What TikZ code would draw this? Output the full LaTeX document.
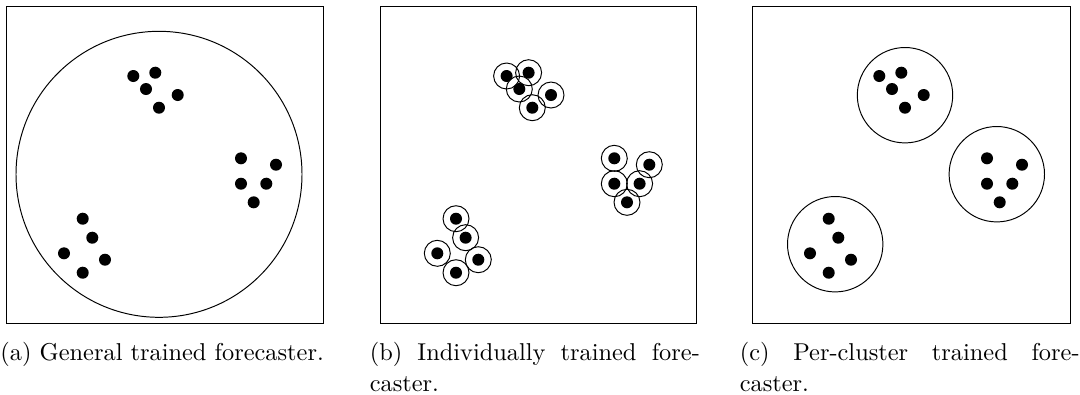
\documentclass[tikz,border=0pt]{standalone}
\begin{document}
\begin{tikzpicture}[x=0.4105pt, y=-0.4105pt,
  panel/.style={draw=black, line width=0.4pt},
  dot/.style={circle, fill=black, draw=none, inner sep=0pt, minimum size=4.93pt},
  ring/.style={circle, draw=black, line width=0.4pt, inner sep=0pt, minimum size=10.67pt},
  region/.style={draw=black, line width=0.4pt},
  captext/.style={inner sep=0pt, font=\fontsize{10}{12.73}\selectfont}]
\useasboundingbox (0,0) rectangle (1080,394);

% dot positions (x relative to panel left, y absolute)
\def\dots{126.6/76/1, 148.6/72.7/2, 139.3/89/3, 171/95/4, 152.3/107.7/5,
  234.3/158.3/6, 269.3/164.7/7, 234.3/183.7/8, 259.6/183.7/9, 247/202.3/10,
  76/218.7/11, 85.6/237.7/12, 57.3/253.3/13, 98.3/259.7/14, 76/272.7/15}

% ---------- panel (a)
\begin{scope}[shift={(6.7,0)}]
  \draw[panel] (0,6) rectangle (316.7,323.3);
  \draw[region] (152.3,174.3) circle[radius=143];
  \foreach \px/\py/\i in \dots {\node[dot] (a\i) at (\px,\py) {};}
\end{scope}

% ---------- panel (b)
\begin{scope}[shift={(380,0)}]
  \draw[panel] (0,6) rectangle (316.3,323.3);
  \foreach \px/\py/\i in \dots {
    \node[dot] (b\i) at (\px,\py) {};
    \node[ring] (br\i) at (\px,\py) {};
  }
\end{scope}

% ---------- panel (c)
\begin{scope}[shift={(752.7,0)}]
  \draw[panel] (0,6) rectangle (317.3,323.3);
  \draw[region] (152.3,95.2) circle[radius=47.7];
  \draw[region] (244.1,174.2) circle[radius=47.7];
  \draw[region] (82.5,244.2) circle[radius=47.7];
  \foreach \px/\py/\i in \dots {\node[dot] (c\i) at (\px,\py) {};}
\end{scope}

% ---------- captions
\node[captext, anchor=base west] (capa) at (0,360) {(a) General trained forecaster.};
\node[captext, anchor=base west, text width=135.5pt, align=justify] (capb) at (369.3,360)
  {(b) Individually trained fore-\linebreak caster.};
\node[captext, anchor=base west, text width=139.5pt, align=justify] (capc) at (739.3,360)
  {(c) Per-cluster trained fore-\linebreak caster.};
\end{tikzpicture}
\end{document}
